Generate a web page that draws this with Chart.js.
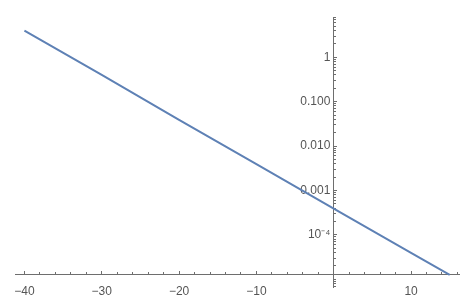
<!DOCTYPE html>
<html><head><meta charset="utf-8">
<script src="https://cdn.jsdelivr.net/npm/chart.js@4/dist/chart.umd.min.js"></script>
<style>html,body{margin:0;padding:0;background:#fff}</style>
</head><body>
<canvas id="c" width="473" height="299"></canvas>
<script>
// Data
const xValues = [-40, -30, -20, -10, 0, 10, 15];
const yValues = [4.0, 0.40, 0.039, 0.0039, 0.00039, 0.000039, 0.0000125];

// Tick labels
const xMajorTicks = [-40, -30, -20, -10, 10];
const xTickLabels = ['\u221240', '\u221230', '\u221220', '\u221210', '10'];
const yMajorTicks = [1e-4, 1e-3, 1e-2, 1e-1, 1];
const yTickLabels = ['10\u207B\u2074', '0.001', '0.010', '0.100', '1'];

const X_MIN = -41.15, X_MAX = 16.2;
const Y_MIN = 6.4e-6, Y_MAX = 8.1;
const X_AXIS_AT = 1.3e-5;

const AXIS_COLOR = '#6e6e6e';
const LABEL_COLOR = '#555555';
const FONT = { family: 'Liberation Sans, Arial, sans-serif', size: 12 };

const xMinorTicks = [];
for (let v = -40; v <= 16; v += 2) xMinorTicks.push(v);
const yMinorTicks = [];
for (let e = -6; e <= 0; e++) for (let s = 1; s <= 9; s++) {
  const v = s * Math.pow(10, e);
  if (v >= Y_MIN && v <= Y_MAX) yMinorTicks.push(v);
}

const points = xValues.map((x, i) => ({ x: x, y: yValues[i] }));

new Chart(document.getElementById('c'), {
  type: 'line',
  data: {
    datasets: [{
      data: points,
      borderColor: '#5e81b5',
      borderWidth: 2,
      pointRadius: 0,
      tension: 0,
      fill: false
    }]
  },
  options: {
    responsive: false,
    animation: false,
    layout: { padding: { left: 12, right: 14, top: 17, bottom: 6 } },
    plugins: { legend: { display: false }, tooltip: { enabled: false }, title: { display: false } },
    scales: {
      x: {
        type: 'linear', axis: 'x', min: X_MIN, max: X_MAX,
        position: { y: X_AXIS_AT },
        border: { color: AXIS_COLOR, width: 1 },
        grid: { drawOnChartArea: false, drawTicks: true, tickLength: -4, color: AXIS_COLOR },
        afterBuildTicks: s => { s.ticks = xMajorTicks.map(v => ({ value: v })); },
        ticks: {
          autoSkip: false, maxRotation: 0, minRotation: 0, padding: 14,
          color: LABEL_COLOR, font: FONT,
          callback: v => { const i = xMajorTicks.indexOf(v); return i >= 0 ? xTickLabels[i] : ''; }
        }
      },
      xMinor: {
        type: 'linear', axis: 'x', min: X_MIN, max: X_MAX,
        position: { y: X_AXIS_AT },
        border: { display: false },
        grid: { drawOnChartArea: false, drawTicks: true, tickLength: -2, color: AXIS_COLOR },
        afterBuildTicks: s => { s.ticks = xMinorTicks.map(v => ({ value: v })); },
        ticks: { autoSkip: false, maxRotation: 0, callback: () => '' }
      },
      y: {
        type: 'logarithmic', axis: 'y', min: Y_MIN, max: Y_MAX,
        position: { x: 0 },
        border: { color: AXIS_COLOR, width: 1 },
        grid: { drawOnChartArea: false, drawTicks: true, tickLength: -4, color: AXIS_COLOR },
        afterBuildTicks: s => { s.ticks = yMajorTicks.map(v => ({ value: v })); },
        ticks: {
          autoSkip: false, padding: 4, color: LABEL_COLOR, font: FONT,
          callback: v => { const i = yMajorTicks.findIndex(t => Math.abs(t - v) / t < 1e-6); return i >= 0 ? yTickLabels[i] + ' ' : ''; }
        }
      },
      yMinor: {
        type: 'logarithmic', axis: 'y', min: Y_MIN, max: Y_MAX,
        position: { x: 0 },
        border: { display: false },
        grid: { drawOnChartArea: false, drawTicks: true, tickLength: -2, color: AXIS_COLOR },
        afterBuildTicks: s => { s.ticks = yMinorTicks.map(v => ({ value: v })); },
        ticks: { autoSkip: false, callback: () => '' }
      }
    }
  }
});
</script>
</body></html>
